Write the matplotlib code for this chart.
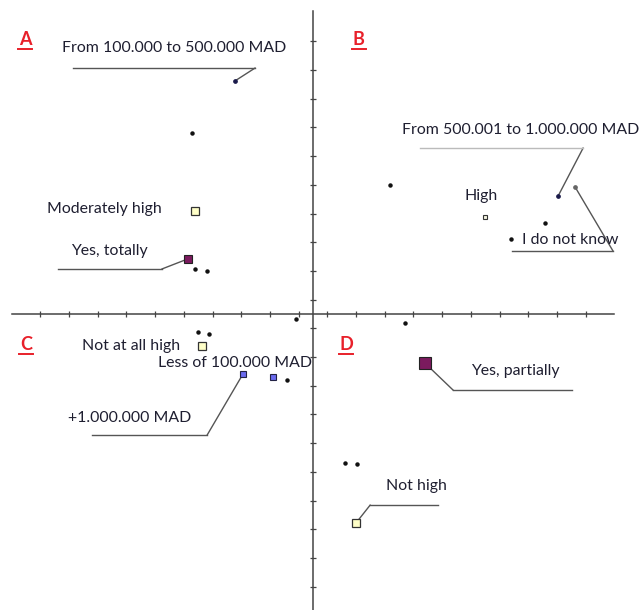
import numpy as np
import matplotlib
matplotlib.use('Agg')
import matplotlib.pyplot as plt

### data: correspondence map coordinates (one tick step = 0.1)
labels = ['From 100.000 to 500.000 MAD', 'Moderately high', 'Yes, totally',
          'From 500.001 to 1.000.000 MAD', 'I do not know', 'High',
          'Not at all high', 'Less of 100.000 MAD', '+1.000.000 MAD',
          'Yes, partially', 'Not high']
lab_x = [-0.272, -0.411, -0.436, 0.854, 0.913, 0.599, -0.387, -0.139, -0.244, 0.390, 0.150]
lab_y = [0.812, 0.359, 0.192, 0.411, 0.443, 0.338, -0.111, -0.220, -0.209, -0.171, -0.728]
kind = ['dot', 'yellow', 'purple', 'dot', 'gray', 'small', 'yellow', 'blue', 'blue', 'purple_big', 'yellow']

dot_x = [-0.422, -0.411, -0.369, 0.268, 0.808, 0.690, -0.059, -0.401, -0.362, -0.091, 0.321, 0.111, 0.153]
dot_y = [0.631, 0.157, 0.150, 0.449, 0.317, 0.261, -0.017, -0.063, -0.070, -0.230, -0.031, -0.519, -0.523]

quad_names = ['A', 'B', 'C', 'D']

# layout: label centres and leader lines (elbow, end), in data units
text_pos = [(-0.484, 0.927), (-0.728, 0.366), (-0.711, 0.220), (0.725, 0.641),
            (0.895, 0.258), (0.585, 0.411), (-0.634, -0.111), (-0.272, -0.171),
            (-0.638, -0.362), (0.704, -0.199), (0.359, -0.599)]
leaders = {0: [(-0.202, 0.857), (-0.836, 0.857)],
           2: [(-0.526, 0.157), (-0.889, 0.157)],
           3: [(0.941, 0.578), (0.373, 0.578)],
           4: [(1.045, 0.220), (0.693, 0.220)],
           8: [(-0.369, -0.422), (-0.770, -0.422)],
           9: [(0.488, -0.265), (0.902, -0.265)],
           10: [(0.199, -0.666), (0.436, -0.666)]}
quad_pos = [(-1.003, 0.958), (0.160, 0.958), (-1.0, -0.105), (0.115, -0.105)]

styles = {
    'dot': dict(marker='o', ms=2.4, mfc='#1a1a4a', mec='#1a1a4a'),
    'gray': dict(marker='o', ms=2.4, mfc='#666666', mec='#666666'),
    'small': dict(marker='s', ms=3.2, mfc='#f4f4e0', mec='#333333', mew=0.8),
    'yellow': dict(marker='s', ms=5.5, mfc='#ffffc8', mec='#333333', mew=0.9),
    'purple': dict(marker='s', ms=5.8, mfc='#7b1a5e', mec='#222222', mew=0.8),
    'purple_big': dict(marker='s', ms=8, mfc='#7b1a5e', mec='#222222', mew=0.8),
    'blue': dict(marker='s', ms=5, mfc='#6b6bef', mec='#222244', mew=0.8),
}


def main():
    plt.rcParams['font.family'] = ['Lato', 'DejaVu Sans']
    fig = plt.figure(figsize=(6.39, 6.10), dpi=100)
    ax = fig.add_axes([0, 0, 1, 1])
    ax.set_xlim(-313 / 287, 326 / 287)
    ax.set_ylim(-296 / 287, 314 / 287)
    ax.axis('off')

    # axes through origin with ticks at half steps
    ax.plot([-1.05, 1.05], [0, 0], color='#444444', lw=1.1, zorder=1)
    ax.plot([0, 0], [-1.035, 1.055], color='#444444', lw=1.1, zorder=1)
    ticks = (np.arange(-10, 10) + 0.5) * 0.1
    ax.plot(ticks, np.zeros_like(ticks), ls='none', marker='|', ms=5, mew=0.9, color='#444444')
    yt = ticks[ticks > -1.0]
    ax.plot(np.zeros_like(yt), yt, ls='none', marker='_', ms=5, mew=0.9, color='#444444')

    # unlabeled points
    ax.plot(dot_x, dot_y, ls='none', marker='o', ms=2.2, color='#111111', zorder=3)

    for i, lab in enumerate(labels):
        if i in leaders:
            (ex, ey), (fx, fy) = leaders[i]
            col = '#bbbbbb' if i == 3 else '#555555'
            ax.plot([lab_x[i], ex], [lab_y[i], ey], color='#555555', lw=1, zorder=2)
            ax.plot([ex, fx], [ey, fy], color=col, lw=1, zorder=2)
        ax.plot(lab_x[i], lab_y[i], ls='none', zorder=4, **styles[kind[i]])
        tx, ty = text_pos[i]
        ax.text(tx, ty, lab, ha='center', va='center', fontsize=11.4,
                color='#1e1e30', zorder=5)

    for name, (qx, qy) in zip(quad_names, quad_pos):
        ax.text(qx, qy, name, ha='center', va='center', fontsize=13,
                fontweight='bold', color='#e8202a')
        ax.plot([qx - 0.025, qx + 0.025], [qy - 0.036, qy - 0.036],
                color='#e8202a', lw=1.4)

    fig.savefig('out.png', dpi=100)


if __name__ == '__main__':
    main()
